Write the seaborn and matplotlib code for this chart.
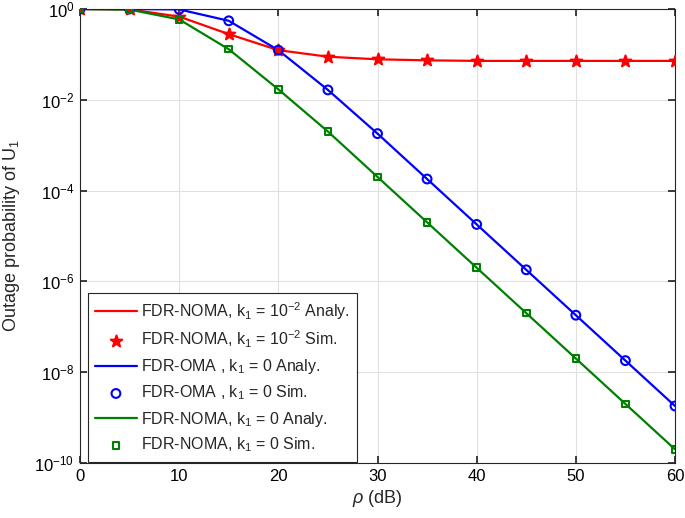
import numpy as np
import pandas as pd
import matplotlib
matplotlib.use("Agg")
import matplotlib.pyplot as plt
import seaborn as sns

snr_db = [0, 5, 10, 15, 20, 25, 30, 35, 40, 45, 50, 55, 60]
noma_k1e2 = [1.0, 0.98, 0.68, 0.28, 0.124, 0.089, 0.078, 0.074, 0.072, 0.072, 0.072, 0.072, 0.072]
oma_k0 = [1.0, 1.0, 0.98, 0.55, 0.124, 0.0165, 1.8e-3, 1.8e-4, 1.8e-5, 1.8e-6, 1.8e-7, 1.8e-8, 1.8e-9]
noma_k0 = [1.0, 0.97, 0.59, 0.13, 0.017, 2.0e-3, 2.0e-4, 2.0e-5, 2.0e-6, 2.0e-7, 2.0e-8, 2.0e-9, 2.0e-10]

sns.set_theme(style="whitegrid")
plt.rcParams['font.family'] = ['Liberation Sans', 'DejaVu Sans']
plt.rcParams['mathtext.fontset'] = 'custom'
plt.rcParams['mathtext.rm'] = 'Liberation Sans'
plt.rcParams['mathtext.it'] = 'Liberation Sans:italic'

fig = plt.figure(figsize=(6.85, 5.18), dpi=100)
ax = fig.add_axes([0.1168, 0.1062, 0.8686, 0.8764])

series = [
    (noma_k1e2, '#ff0000', '*', 'FDR-NOMA, k$_1$ = 10$^{-2}$', dict(s=75, filled=True)),
    (oma_k0, '#0000ff', 'o', 'FDR-OMA , k$_1$ = 0', dict(s=40, filled=False)),
    (noma_k0, '#008000', 's', 'FDR-NOMA, k$_1$ = 0', dict(s=22, filled=False)),
]
for vals, col, m, lab, opt in series:
    df = pd.DataFrame({'x': snr_db, 'y': vals})
    sns.lineplot(data=df, x='x', y='y', ax=ax, color=col, linewidth=1.6, label=lab + ' Analy.')
    sns.scatterplot(data=df, x='x', y='y', ax=ax, marker=m, label=lab + ' Sim.', zorder=5,
                    s=opt['s'], facecolor=col if opt['filled'] else 'none', edgecolor=col,
                    linewidth=1.5)

ax.set_yscale('log')
ax.set_xlim(0, 60)
ax.set_ylim(1e-10, 1)
ax.set_xticks(range(0, 61, 10))
ax.set_yticks([10.0**k for k in range(-10, 1, 2)])
ax.yaxis.set_minor_locator(matplotlib.ticker.NullLocator())
ax.set_facecolor('white')
ax.grid(True, color='#e0e0e0', linewidth=0.8)
for s in ax.spines.values():
    s.set_visible(True)
    s.set_color('#262626')
    s.set_linewidth(0.8)
ax.tick_params(axis='both', which='major', direction='in', length=5, labelsize=12, colors='#262626', labelcolor='black', pad=4)
ax.tick_params(top=True, right=True, bottom=True, left=True)
ax.set_xlabel(r'$\rho$ (dB)', fontsize=13, labelpad=3)
ax.set_ylabel('Outage probability of U$_1$', fontsize=13)
ax.yaxis.set_label_coords(-0.0975, 0.5)

leg = ax.legend(loc='lower left', bbox_to_anchor=(0.0134, 0.003), fontsize=11.5, frameon=True,
                fancybox=False, edgecolor='#262626', framealpha=1, handlelength=2.6,
                handletextpad=0.25, labelspacing=0.45, borderpad=0.45, borderaxespad=0.0)
leg.get_frame().set_linewidth(0.8)

fig.savefig('out.png', dpi=100)
